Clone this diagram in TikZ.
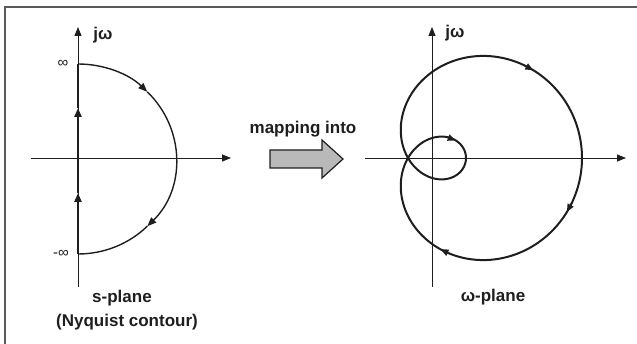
\documentclass[tikz,border=0pt]{standalone}
\usepackage{fontspec}
\setmainfont{Liberation Sans}
\usetikzlibrary{arrows.meta}
\definecolor{ink}{RGB}{30,30,30}
\definecolor{framec}{RGB}{90,90,90}
\definecolor{arrowfill}{RGB}{185,185,185}
\begin{document}
\begin{tikzpicture}[x=1pt,y=-1pt,
  declare function={rr(\t)=58+116*cos(\t); px(\t)=408+rr(\t)*cos(\t); py(\t)=158+rr(\t)*sin(\t);},
  axis/.style={line width=0.8pt, draw=ink, -{Triangle[length=9pt,width=7pt]}},
  lbl/.style={text=ink, font=\fontsize{17}{20}\selectfont\bfseries, inner sep=0pt},
  inf/.style={text=ink, font=\fontsize{15}{17}\selectfont, inner sep=0pt},
  contour/.style={line width=1.4pt, draw=ink},
  thick axis/.style={line width=2.4pt, draw=ink},
  mapcurve/.style={line width=2pt, draw=ink, line join=round},
  tipc/.style={-{Triangle[length=9pt,width=7pt]}},
  tipm/.style={line width=1.6pt, draw=ink, -{Triangle[length=8pt,width=6.5pt]}}]
\useasboundingbox (0,0) rectangle (637,344);
% frame
\draw[line width=1.2pt, framec] (5,344) -- (5,7) -- (637,7);

% ---------- s-plane ----------
\coordinate (sO) at (78,158);
\coordinate (sTop) at (78,64);
\coordinate (sBot) at (78,254);
\draw[axis] (78,287) -- (78,27);
\draw[axis] (31,158) -- (231,158);
% thick contour on the axis
\coordinate (sA1) at (78,193);
\coordinate (sA2) at (78,108);
\draw[thick axis, tipc] (sBot) -- (sA1);
\draw[thick axis, tipc] (sA1) -- (sA2);
\draw[thick axis] (sA2) -- (sTop);
% semicircle
\draw[contour, tipc] (sTop) arc[start angle=-90, end angle=-45, x radius=98, y radius=95] coordinate (sM1);
\draw[contour, tipc] (sM1) arc[start angle=-45, end angle=45, x radius=98, y radius=95] coordinate (sM2);
\draw[contour] (sM2) arc[start angle=45, end angle=90, x radius=98, y radius=95];
\node[inf] (infTop) at (63,64) {∞};
\node[inf, anchor=east] (infBot) at (69,254) {-∞};
\node[lbl] (sjw) at (103,35) {jω};
\node[lbl] (splane) at (122,298) {s-plane};
\node[lbl] (nyq) at (127,322) {(Nyquist contour)};

% ---------- mapping arrow ----------
\node[lbl] (mapping) at (303,129) {mapping into};
\draw[line width=1.2pt, draw=ink, fill=arrowfill, line join=miter]
  (270,150) -- (322,150) -- (322,140) -- (343,159) -- (322,178) -- (322,168) -- (270,168) -- cycle;

% ---------- w-plane ----------
\draw[axis] (432,287) -- (432,27);
\draw[axis] (365,158) -- (626,158);
\draw[mapcurve] plot[domain=0:360, samples=241, smooth] ({px(\x)},{py(\x)}) -- cycle;
\draw[tipm] ({px(15.3)},{py(15.3)}) -- ({px(18.8)},{py(18.8)});
\draw[tipm] ({px(66.4)},{py(66.4)}) -- ({px(70.4)},{py(70.4)});
\draw[tipm] ({px(152)},{py(152)}) -- ({px(159.8)},{py(159.8)});
\draw[tipm] ({px(321.5)},{py(321.5)}) -- ({px(325)},{py(325)});
\node[lbl] (wjw) at (455,33) {jω};
\node[lbl] (wplane) at (493,297) {ω-plane};
\end{tikzpicture}
\end{document}
